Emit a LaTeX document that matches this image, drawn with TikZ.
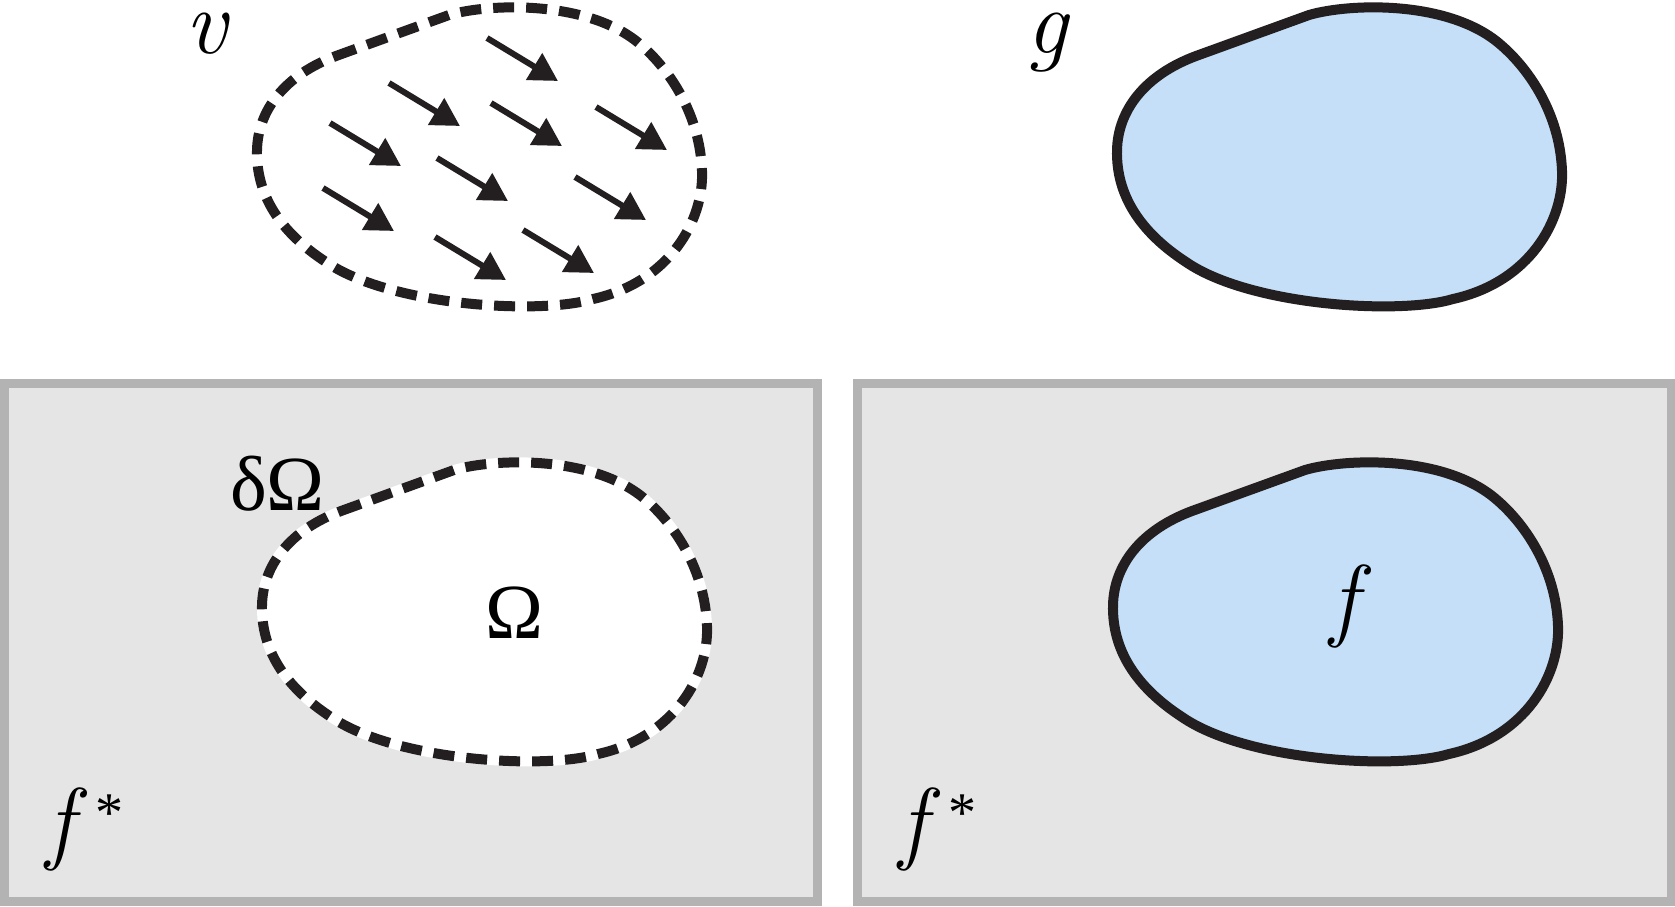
\documentclass[tikz,border=0pt]{standalone}
\usepackage{fontspec}
\newfontfamily\timesfont{Liberation Serif}
\usetikzlibrary{arrows.meta}
\definecolor{InkBlack}{HTML}{231F20}
\definecolor{PanelGray}{HTML}{E5E5E5}
\definecolor{PanelEdge}{HTML}{B3B3B3}
\definecolor{RegionBlue}{HTML}{C4DFF7}

\begin{document}
\begin{tikzpicture}[x=1pt, y=-1pt,
    panel/.style={draw=PanelEdge, line width=9pt, fill=PanelGray},
    border/.style={draw=InkBlack, line width=10pt, dash pattern=on 21pt off 12pt},
    halo/.style={draw=white, line width=10pt, fill=white},
    edge/.style={draw=InkBlack, line width=10pt, fill=RegionBlue},
    vec/.style={draw=InkBlack, line width=6pt, -{Triangle[length=28pt,width=30pt]}},
    ital/.style={font=\fontsize{92}{92}\selectfont\itshape, inner sep=0pt, anchor=base west},
    lab/.style={font=\fontsize{78}{78}\selectfont\timesfont, inner sep=0pt, anchor=base west},
    blob/.pic={
      \path[pic actions] (-144,-104) -- (-31,-145)
        .. controls (10,-157) and (110,-160) .. (161,-115)
        .. controls (190,-90) and (220,-45) .. (222,11)
        .. controls (224,60) and (190,122) .. (113,139)
        .. controls (60,155) and (-90,146) .. (-154,102)
        .. controls (-200,72) and (-224,35) .. (-223,-10)
        .. controls (-222,-50) and (-195,-85) .. (-144,-104) -- cycle;
    },
  ]
  \useasboundingbox (0,0) rectangle (1675,906);
  % panels
  \path[panel] (4,383.5) rectangle (817.5,901.5);
  \path[panel] (857.5,383.5) rectangle (1671,901.5);
  % field v
  \pic[border] at (480,160) {blob};
  \foreach \x/\y in {487/38, 389/83, 491/103, 596/107, 330/123,
                     437/158, 575/177, 323/188, 435/237, 523/230}
    \draw[vec] (\x,\y) -- ++(71,43);
  % region g
  \pic[edge] at (1340,160) {blob};
  % Omega with its boundary
  \pic[halo] at (485,615) {blob};
  \pic[border] at (485,615) {blob};
  % f inside
  \pic[edge] at (1336,615) {blob};
  % labels
  \node[ital] (vlab) at (185,53) {v};
  \node[ital] (glab) at (1026,53) {g};
  \node[lab] (dlab) at (230,510) {δΩ};
  \node[lab] (omlab) at (485,638) {Ω};
  \node[ital] (flab) at (1330,629) {f};
  \node[ital] (fsl) at (46,852) {f\kern 22pt\raisebox{21pt}{\timesfont\upshape\fontsize{56}{56}\selectfont *}};
  \node[ital] (fsr) at (899,852) {f\kern 22pt\raisebox{21pt}{\timesfont\upshape\fontsize{56}{56}\selectfont *}};
\end{tikzpicture}
\end{document}
